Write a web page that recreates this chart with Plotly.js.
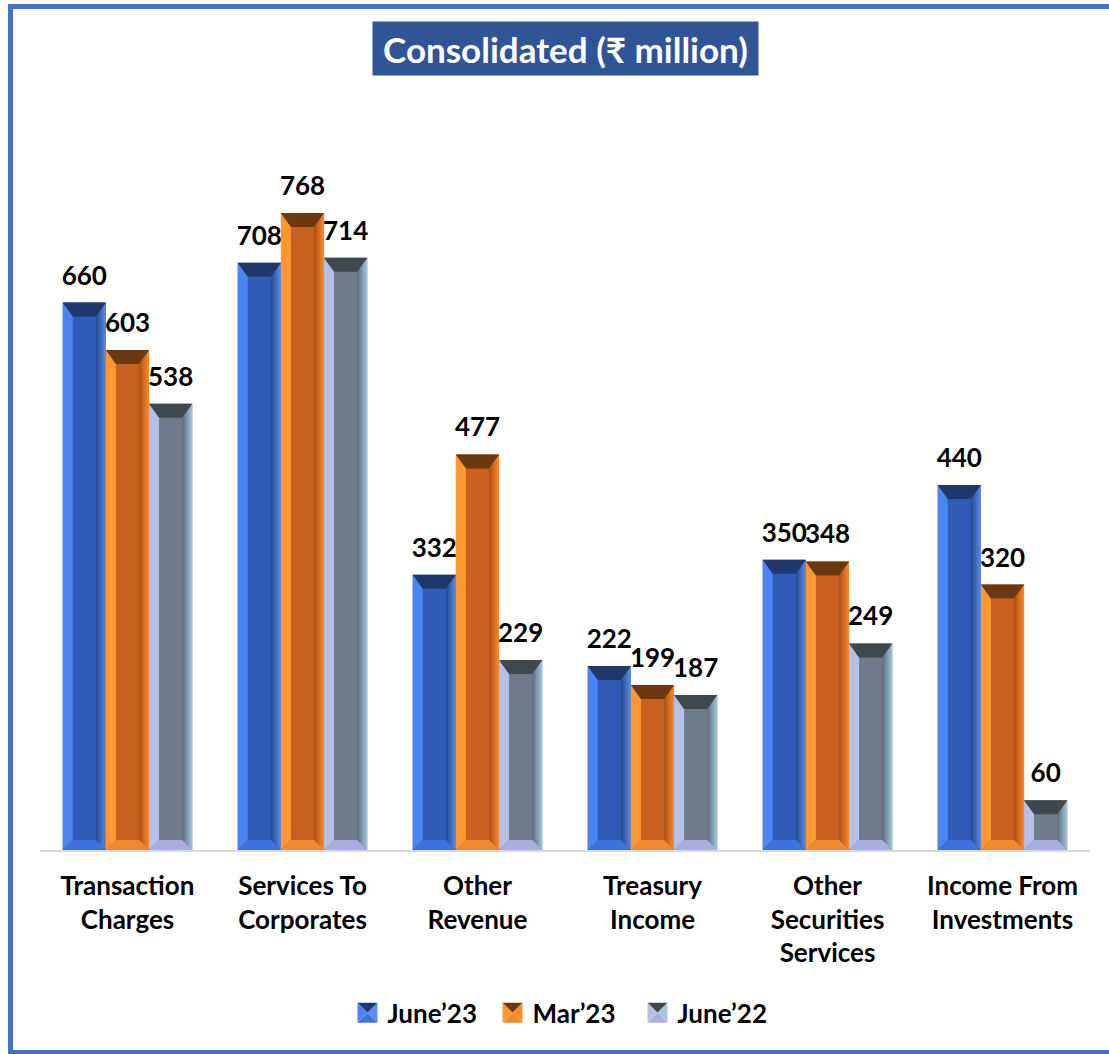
<!DOCTYPE html>
<html>
<head>
<meta charset="utf-8">
<script src="https://cdn.plot.ly/plotly-3.0.1.min.js"></script>
<style>
  html, body { margin:0; padding:0; width:1109px; height:1054px; overflow:hidden; background:#fff; }
  #chart { position:absolute; left:0; top:0; width:1109px; height:1054px; }
  #frame { position:absolute; left:8px; top:4px; width:1200px; height:1051px; border:5px solid #4472C4; box-sizing:border-box; pointer-events:none; z-index:5; }
</style>
</head>
<body>
<div id="chart"></div>
<div id="frame"></div>
<script>
const categories = ["Transaction<br>Charges", "Services To<br>Corporates", "Other<br>Revenue", "Treasury<br>Income", "Other<br>Securities<br>Services", "Income From<br>Investments"];
const seriesNames = ["June\u201923", "Mar\u201923", "June\u201922"];
const june23 = [660, 708, 332, 222, 350, 440];
const mar23  = [603, 768, 477, 199, 348, 320];
const june22 = [538, 714, 229, 187, 249, 60];
const titleText = "Consolidated (\u20B9 million)";

const FONT = "Lato, 'Noto Sans', 'DejaVu Sans', sans-serif";
const baseColors = ["#2F5BB7", "#C8601E", "#6E7B8C"];
const PAL = [
  {top:"#1E386C", left:"#4C84F2", rightA:"#24488F", rightB:"#5A8EEA", bottom:"#3F72DA"},
  {top:"#6A3912", left:"#FF9833", rightA:"#A94F16", rightB:"#FF8A2A", bottom:"#F08A30"},
  {top:"#3E484D", left:"#B6BFE6", rightA:"#5E6B7C", rightB:"#A2C8DE", bottom:"#A9AEDC"}
];

const values = [june23, mar23, june22];
const traces = values.map((v, i) => ({
  type: "bar",
  name: seriesNames[i],
  x: categories,
  y: v,
  text: v.map(String),
  textposition: "outside",
  cliponaxis: false,
  constraintext: "none",
  textfont: {family: FONT, size: 26, color: "#000", weight: "bold"},
  marker: {color: baseColors[i], line: {width: 0}},
  hoverinfo: "skip"
}));

const layout = {
  width: 1109, height: 1054,
  paper_bgcolor: "#fff", plot_bgcolor: "#fff",
  margin: {l: 40, r: 19, t: 100, b: 204},
  barmode: "group",
  bargap: 0.26,
  bargroupgap: 0,
  showlegend: true,
  legend: {orientation: "h", x: 0.5, xanchor: "center", y: -0.217, yanchor: "middle",
           entrywidth: 100,
           font: {family: FONT, size: 26, color: "#000", weight: "bold"}, itemsizing: "constant", traceorder: "normal"},
  xaxis: {
    showline: true, linecolor: "#D9D9D9", linewidth: 1.5,
    ticks: "", showgrid: false, zeroline: false,
    tickfont: {family: FONT, size: 26, color: "#000", weight: "bold"},
    ticklabelstandoff: 12
  },
  yaxis: {range: [0, 904.3], visible: false, showgrid: false, zeroline: false, fixedrange: true},
  annotations: [{
    text: titleText, xref: "paper", yref: "paper", x: 0.5, y: 1.0687,
    xanchor: "center", yanchor: "middle", showarrow: false,
    font: {family: FONT, size: 35, color: "#fff", weight: "bold"},
    bgcolor: "#2F5597", width: 385, height: 53, borderpad: 0
  }],
  hovermode: false
};

const SVGNS = "http://www.w3.org/2000/svg";
function poly(pts, fill) {
  const p = document.createElementNS(SVGNS, "polygon");
  p.setAttribute("points", pts.map(q => q.join(",")).join(" "));
  p.setAttribute("fill", fill);
  p.setAttribute("class", "bevel");
  return p;
}
function ensureDefs(svg) {
  let defs = svg.querySelector("defs#bevdefs");
  if (defs) return;
  defs = document.createElementNS(SVGNS, "defs");
  defs.setAttribute("id", "bevdefs");
  PAL.forEach((c, i) => {
    const g = document.createElementNS(SVGNS, "linearGradient");
    g.setAttribute("id", "rg" + i);
    g.setAttribute("x1", "0"); g.setAttribute("x2", "1"); g.setAttribute("y1", "0"); g.setAttribute("y2", "0");
    [[0, c.rightA], [1, c.rightB]].forEach(([o, col]) => {
      const s = document.createElementNS(SVGNS, "stop");
      s.setAttribute("offset", o); s.setAttribute("stop-color", col);
      g.appendChild(s);
    });
    defs.appendChild(g);
  });
  svg.insertBefore(defs, svg.firstChild);
}
function decorate() {
  const gd = document.getElementById("chart");
  const svg = gd.querySelector("svg.main-svg");
  ensureDefs(svg);
  gd.querySelectorAll(".bevel").forEach(e => e.remove());
  gd.querySelectorAll(".barlayer .trace").forEach((tr, ti) => {
    const c = PAL[ti];
    tr.querySelectorAll(".point").forEach(pt => {
      const p = pt.querySelector(":scope > path");
      if (!p) return;
      const bb = p.getBBox();
      if (bb.width <= 0 || bb.height <= 0) return;
      const x0 = bb.x, x1 = bb.x + bb.width, y0 = bb.y, y1 = bb.y + bb.height;
      const bx = Math.min(10, bb.width / 4);
      const by = Math.min(14, bb.height / 2.4);
      const by2 = Math.min(10, bb.height / 3.5);
      const els = [
        poly([[x0, y0], [x0 + bx, y0 + by], [x0 + bx, y1 - by2], [x0, y1]], c.left),
        poly([[x1, y0], [x1 - bx, y0 + by], [x1 - bx, y1 - by2], [x1, y1]], "url(#rg" + ti + ")"),
        poly([[x0, y1], [x1, y1], [x1 - bx, y1 - by2], [x0 + bx, y1 - by2]], c.bottom),
        poly([[x0, y0], [x1, y0], [x1 - bx, y0 + by], [x0 + bx, y0 + by]], c.top)
      ];
      const ref = p.nextSibling;
      els.forEach(e => p.parentNode.insertBefore(e, ref));
      const t = pt.querySelector("text");
      if (t && !t.dataset.shifted) {
        t.setAttribute("transform", "translate(0,-9) " + (t.getAttribute("transform") || ""));
        t.dataset.shifted = "1";
      }
    });
  });
  gd.querySelectorAll(".legend .traces").forEach((tr, ti) => {
    const c = PAL[ti];
    const p = tr.querySelector(".legendpoints path");
    if (!p) return;
    const par = p.parentNode;
    const s = 10;
    const tf = p.getAttribute("transform") || "";
    const m = /translate\(([-\d.]+),\s*([-\d.]+)\)/.exec(tf);
    const ox = m ? +m[1] : 0, oy = m ? +m[2] : 0;
    const bb = p.getBBox();
    const mx = ox + bb.x + bb.width / 2, my = oy + bb.y + bb.height / 2;
    const a = [mx - s, my - s], b = [mx + s, my - s], d = [mx + s, my + s], e = [mx - s, my + s];
    const ci = [mx, my];
    p.style.display = "none";
    [poly([a, b, ci], c.top), poly([b, d, ci], c.rightB), poly([d, e, ci], c.bottom), poly([e, a, ci], c.left)]
      .forEach(el => par.appendChild(el));
  });
}

const gd = document.getElementById("chart");
Plotly.newPlot(gd, traces, layout, {displayModeBar: false, staticPlot: true}).then(() => {
  decorate();
  gd.on("plotly_afterplot", decorate);
});
</script>
</body>
</html>
